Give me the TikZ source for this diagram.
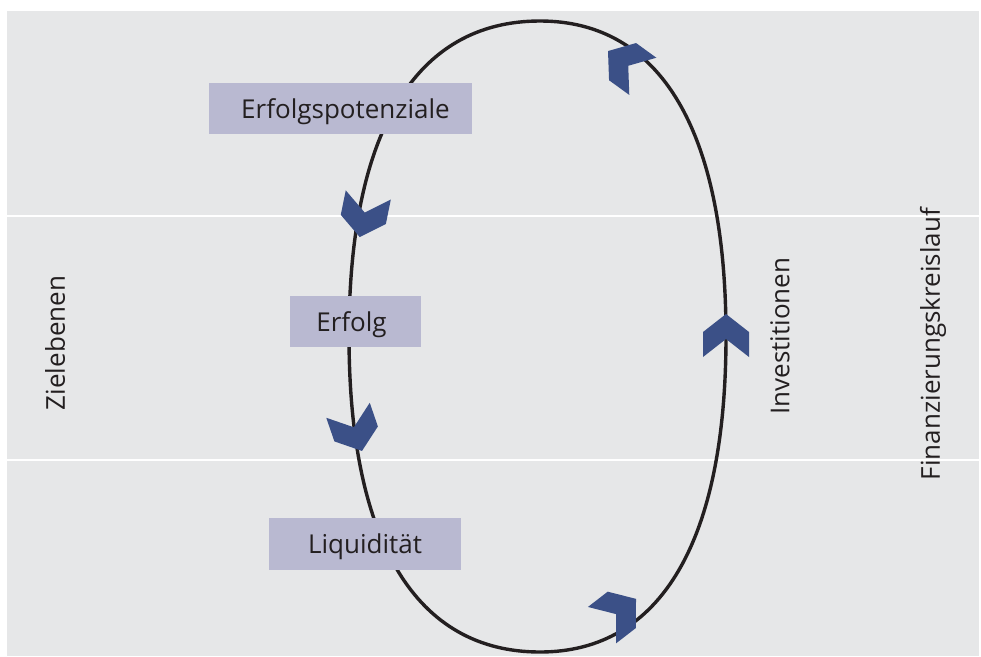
\documentclass[tikz,border=0pt]{standalone}
\usepackage{fontspec}
\setmainfont{Open Sans}
\definecolor{bggray}{HTML}{E6E7E8}
\definecolor{boxfill}{HTML}{B9B9D1}
\definecolor{chevfill}{HTML}{3B5087}
\definecolor{txt}{HTML}{231F20}
\begin{document}
\begin{tikzpicture}[x=1pt,y=-1pt,
  lbox/.style={fill=boxfill, draw=none, inner sep=0pt, text=txt, text height=19pt, text depth=0pt, font=\fontsize{26}{30}\selectfont},
  vlabel/.style={rotate=90, text=txt, inner sep=0pt, font=\fontsize{26}{30}\selectfont},
  loopline/.style={line width=3.4pt, draw=txt},
  chev/.pic={\fill[chevfill] (0,-21.5)--(23,-3.5)--(23,21.5)--(0,3.5)--(-23,21.5)--(-23,-3.5)--cycle;}
]
\useasboundingbox (0,0) rectangle (981,656);
\fill[white] (0,0) rectangle (981,656);
\fill[bggray] (7,11) rectangle (979,656);
\draw[white, line width=2pt] (7,216) -- (979,216);
\draw[white, line width=2pt] (7,460) -- (979,460);
% loop
\coordinate (top) at (540,21);
\coordinate (right) at (726,336);
\coordinate (bottom) at (540,652);
\coordinate (left) at (349,336);
\draw[loopline] (top) .. controls (660.9,21) and (726,131.25) .. (right)
  .. controls (726,541.4) and (660.9,652) .. (bottom)
  .. controls (415.85,652) and (349,541.4) .. (left)
  .. controls (349,131.25) and (415.85,21) .. (top) -- cycle;
% boxes
\node[lbox, minimum width=263pt, minimum height=51pt] (ep) at (340.5,108.5) {\hspace*{10pt}Erfolgspotenziale};
\node[lbox, minimum width=131pt, minimum height=51pt] (er) at (355.5,321.5) {Erfolg\hspace*{8pt}};
\node[lbox, minimum width=192pt, minimum height=52pt] (lq) at (365,544) {Liquidität};
% chevrons
\pic[rotate=54] at (625.4,63.7) {chev};
\pic[rotate=168.5] at (364,216) {chev};
\pic[rotate=-161] at (355,430.6) {chev};
\pic[rotate=-52.3] at (619,612) {chev};
\pic at (726,335.5) {chev};
% vertical labels
\node[vlabel] (zl) at (55,343) {Zielebenen};
\node[vlabel] (inv) at (780,336) {Investitionen};
\node[vlabel] (fk) at (933,344) {Finanzierungskreislauf};
\end{tikzpicture}
\end{document}
